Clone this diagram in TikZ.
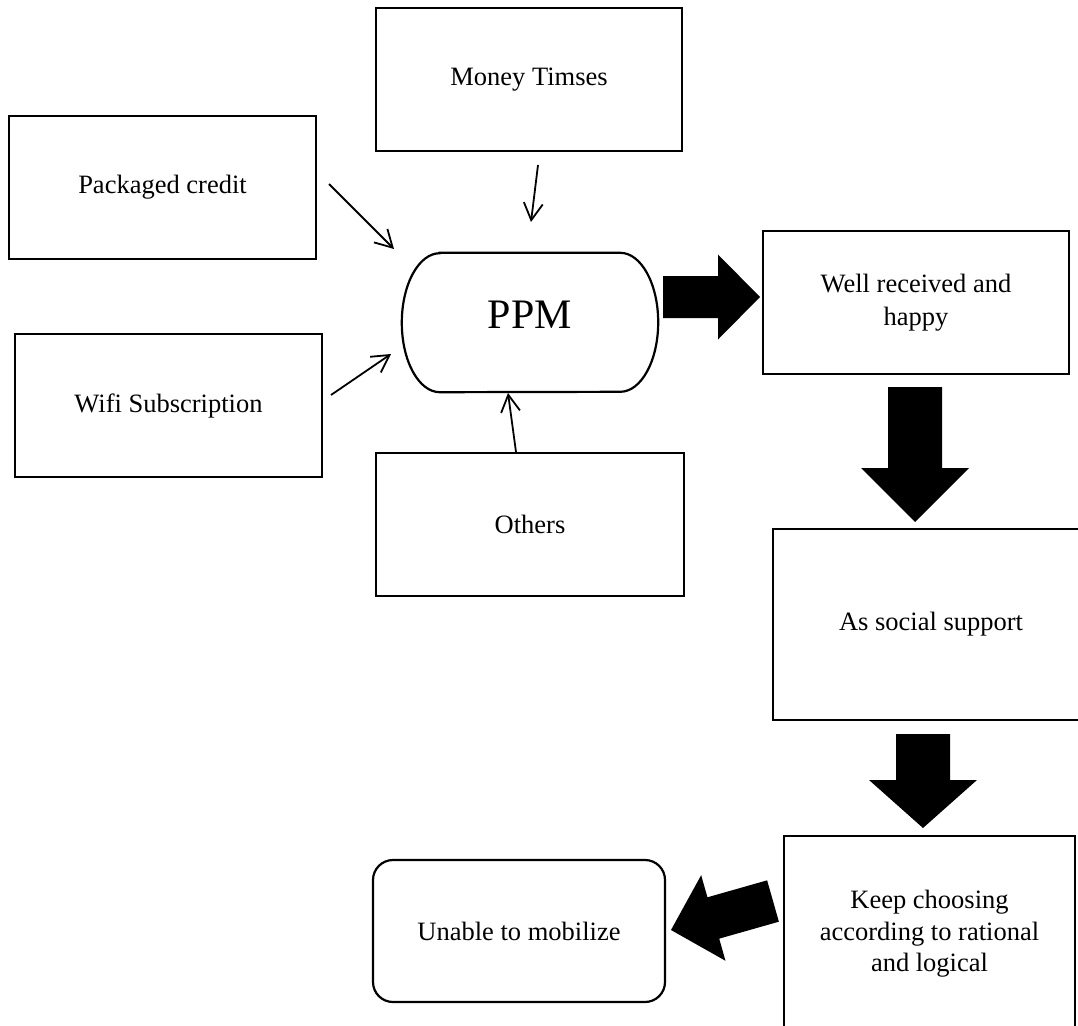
\documentclass[tikz,border=0pt]{standalone}
\usepackage{fontspec}
\setmainfont{Liberation Serif}
\usetikzlibrary{calc,arrows.meta}
% block arrow: #1 start, #2 tip, #3 shaft half width, #4 head half width, #5 head length
\newcommand\blockarr[5]{%
  \coordinate (tmpH) at ($(#2)!#5!(#1)$);
  \fill ($(#1)!#3!90:(#2)$) -- ($(tmpH)!#3!90:(#2)$) -- ($(tmpH)!#4!90:(#2)$) -- (#2)
     -- ($(tmpH)!#4!-90:(#2)$) -- ($(tmpH)!#3!-90:(#2)$) -- ($(#1)!#3!-90:(#2)$) -- cycle;}
\tikzset{
  box/.style={draw, line width=2.2pt, align=center, inner sep=0pt,
    font=\fontsize{26.5pt}{31.5pt}\selectfont},
  thinarr/.style={line width=1.8pt, -{Straight Barb[length=17pt,width=19pt]}},
}
\begin{document}
\begin{tikzpicture}[x=1pt,y=-1pt]
\useasboundingbox (0,0) rectangle (1078,1025);
\fill[white] (0,0) rectangle (1078,1025);
\clip (0,0) rectangle (1078,1025);

% boxes
\node[box, minimum width=306pt, minimum height=143pt] (money) at (529,79.5) {Money Timses};
\node[box, minimum width=307pt, minimum height=143pt] (pack) at (162.5,187.5) {Packaged credit};
\node[box, minimum width=307pt, minimum height=143pt] (wifi) at (168.5,405.5) {Wifi Subscription};
\node[box, minimum width=308pt, minimum height=143pt] (others) at (530,524.5) {Others};
\node[box, minimum width=306pt, minimum height=143pt,
      font=\fontsize{26.5pt}{33pt}\selectfont] (well) at (916,302.5) {Well received and\\happy};
\node[box, minimum width=316pt, minimum height=191pt] (social) at (931,624.5) {As social support};
\node[box, minimum width=291pt, minimum height=196pt] (keep) at (929.5,934) {Keep choosing\\according to rational\\and logical};
\node[box, rounded corners=20pt, minimum width=292pt, minimum height=142pt] (unable) at (519,931) {Unable to mobilize};

% PPM terminal shape
\node[inner sep=0pt, minimum width=256pt, minimum height=139pt,
      font=\fontsize{42pt}{48pt}\selectfont] (ppm) at (530,322.5) {\raisebox{16pt}{PPM}};
\draw[line width=2.2pt] ([xshift=38pt]ppm.north west) -- ([xshift=-38pt]ppm.north east)
  arc[start angle=90, end angle=-90, x radius=38pt, y radius=69.5pt]
  -- ([xshift=38pt]ppm.south west)
  arc[start angle=270, end angle=90, x radius=38pt, y radius=69.5pt] -- cycle;

% thin arrows
\coordinate (m1) at (538,165);  \coordinate (m2) at (531,222);
\coordinate (p1) at (329,184);  \coordinate (p2) at (394,249);
\coordinate (w1) at (331,395);  \coordinate (w2) at (391,354);
\coordinate (o1) at (516,452);  \coordinate (o2) at (508,393);
\draw[thinarr] (m1) -- (m2);
\draw[thinarr] (p1) -- (p2);
\draw[thinarr] (w1) -- (w2);
\draw[thinarr] (o1) -- (o2);

% block arrows
\coordinate (b1s) at (663,297); \coordinate (b1e) at (760,297);
\coordinate (b2s) at (915,387); \coordinate (b2e) at (915,522);
\coordinate (b3s) at (923,734); \coordinate (b3e) at (923,828);
\coordinate (b4s) at (773,901); \coordinate (b4e) at (671,930);
\blockarr{b1s}{b1e}{21pt}{42.5pt}{42pt}
\blockarr{b2s}{b2e}{27pt}{54pt}{54pt}
\blockarr{b3s}{b3e}{27pt}{54pt}{48pt}
\blockarr{b4s}{b4e}{21.5pt}{44.5pt}{44pt}
\end{tikzpicture}
\end{document}
